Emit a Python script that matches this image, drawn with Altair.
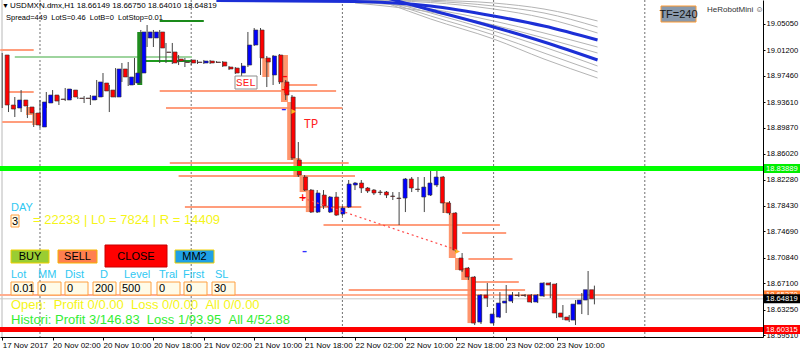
import json
import altair as alt
import pandas as pd

FONT = "Liberation Sans"
MONO = "Liberation Mono"

# ---------------- candles: bar index = hours since 20 Nov 2017 00:00 ----------------
bar_h = list(range(-6, 89))
open_p = [
    19.0051, 18.9319, 18.9275, 18.9392, 18.9290, 18.9202,
    18.8997, 18.9348, 18.9465, 18.9407, 18.9392, 18.9538, 18.9421, 18.9421, 18.9392, 18.9436,
    18.9641, 18.9538, 18.9436, 18.9846, 18.9612, 18.9641, 18.9787, 19.0300, 19.0300, 19.0388,
    19.0095, 19.0095, 18.9992, 18.9948, 18.9978, 18.9948, 18.9934, 18.9963, 18.9948, 18.9948,
    18.9875, 18.9860, 18.9787, 18.9904, 19.0197, 19.0417, 19.0007, 18.9758, 19.0051, 18.9656,
    18.9436, 18.8514, 18.8265, 18.8074, 18.7752, 18.8001, 18.7752, 18.7972, 18.7723, 18.7826,
    18.8148, 18.8177, 18.8104, 18.8074, 18.8045, 18.8045, 18.7987, 18.7957, 18.7957, 18.8236,
    18.8089, 18.7972, 18.8001, 18.8148, 18.8265, 18.7884, 18.7738, 18.7079, 18.6933, 18.6801,
    18.6142, 18.6537, 18.6127, 18.6215, 18.6420, 18.6449, 18.6537, 18.6537, 18.6537, 18.6435,
    18.6523, 18.6713, 18.6698, 18.6274, 18.6215, 18.6171, 18.6405, 18.6464, 18.66149,
]
high_p = [
    19.0080, 18.9392, 18.9436, 18.9538, 18.9319, 18.9246,
    18.9392, 18.9509, 18.9538, 18.9451, 18.9568, 18.9553, 18.9436, 18.9451, 18.9465, 18.9685,
    18.9787, 18.9612, 18.9860, 18.9934, 18.9948, 19.0007, 19.0417, 19.0490, 19.0417, 19.0417,
    19.0227, 19.0227, 19.0051, 19.0007, 18.9992, 18.9978, 18.9978, 18.9978, 18.9963, 18.9963,
    18.9890, 18.9875, 18.9934, 19.0388, 19.0446, 19.0446, 19.0036, 19.0051, 19.0065, 18.9685,
    18.9465, 18.8777, 18.8294, 18.8089, 18.8074, 18.8074, 18.7987, 18.8045, 18.7840, 18.8221,
    18.8192, 18.8221, 18.8118, 18.8089, 18.8074, 18.8060, 18.8045, 18.8045, 18.8250, 18.8265,
    18.8265, 18.8265, 18.8382, 18.8382, 18.8280, 18.7913, 18.7752, 18.7152, 18.6948, 18.6816,
    18.6552, 18.6713, 18.6347, 18.6581, 18.6684, 18.6581, 18.6581, 18.6552, 18.6552, 18.6552,
    18.6727, 18.6727, 18.6713, 18.6391, 18.6244, 18.6464, 18.6567, 18.6889, 18.66750,
]
low_p = [
    18.9275, 18.9216, 18.9143, 18.9216, 18.9128, 18.8997,
    18.8982, 18.9275, 18.9348, 18.9319, 18.9377, 18.9421, 18.9407, 18.9348, 18.9319, 18.9392,
    18.9436, 18.9216, 18.9429, 18.9656, 18.9597, 18.9612, 18.9641, 19.0168, 19.0168, 18.9934,
    18.9934, 18.9919, 18.9904, 18.9875, 18.9904, 18.9919, 18.9919, 18.9919, 18.9934, 18.9875,
    18.9831, 18.9773, 18.9714, 18.9875, 19.0183, 18.9758, 18.9582, 18.9612, 18.9626, 18.9392,
    18.8514, 18.8265, 18.8060, 18.7738, 18.7738, 18.7796, 18.7738, 18.7694, 18.7694, 18.7811,
    18.8074, 18.8031, 18.8031, 18.8001, 18.8001, 18.7957, 18.7928, 18.7562, 18.7752, 18.8045,
    18.8045, 18.7752, 18.7987, 18.8118, 18.7738, 18.7708, 18.7167, 18.6874, 18.6757, 18.6098,
    18.6113, 18.6362, 18.6098, 18.6200, 18.6274, 18.6420, 18.6508, 18.6508, 18.6420, 18.6420,
    18.6508, 18.6493, 18.6200, 18.6171, 18.6142, 18.6098, 18.6259, 18.6244, 18.64010,
]
close_p = [
    18.9319, 18.9260, 18.9392, 18.9304, 18.9202, 18.9026,
    18.9363, 18.9465, 18.9377, 18.9400, 18.9553, 18.9436, 18.9414, 18.9414, 18.9451, 18.9656,
    18.9524, 18.9436, 18.9846, 18.9729, 18.9729, 18.9787, 19.0388, 19.0388, 19.0388, 19.0153,
    19.0088, 18.9934, 18.9963, 18.9941, 18.9934, 18.9941, 18.9963, 18.9934, 18.9941, 18.9890,
    18.9846, 18.9787, 18.9890, 19.0197, 19.0417, 19.0007, 18.9948, 19.0036, 18.9656, 18.9465,
    18.8543, 18.8294, 18.8074, 18.7752, 18.8031, 18.7840, 18.7972, 18.7708, 18.7811, 18.8162,
    18.8177, 18.8104, 18.8060, 18.8031, 18.8038, 18.8001, 18.7980, 18.7950, 18.8236, 18.8104,
    18.8082, 18.8118, 18.8177, 18.8265, 18.7884, 18.7738, 18.7196, 18.6903, 18.6801, 18.6127,
    18.6537, 18.6493, 18.6259, 18.6420, 18.6449, 18.6537, 18.6530, 18.6530, 18.6435, 18.6537,
    18.6713, 18.6684, 18.6274, 18.6215, 18.6171, 18.6405, 18.6464, 18.6615, 18.64819,
]

# ---------------- axes ----------------
x_tick_h = [-6, 2, 10, 18, 26, 34, 42, 50, 58, 66, 74, 82]
x_tick_lbl = ["17 Nov 2017", "20 Nov 02:00", "20 Nov 10:00", "20 Nov 18:00", "21 Nov 02:00",
              "21 Nov 10:00", "21 Nov 18:00", "22 Nov 02:00", "22 Nov 10:00", "22 Nov 18:00",
              "23 Nov 02:00", "23 Nov 10:00"]
y_ticks = [19.0505, 19.0120, 18.9746, 18.9361, 18.8987, 18.8602, 18.8228, 18.7843,
           18.7469, 18.7084, 18.6710, 18.6325, 18.5951]
x_domain = [-6.349, 114.762]
y_domain = [18.5923, 19.0856]
separators_h = [0, 24, 48, 72, 96]

# ---------------- indicator lines (moving-average fan) ----------------
blue1_h = [28, 50, 62, 72, 80, 88.5]
blue1_p = [19.0849, 19.0834, 19.0768, 19.0622, 19.0475, 19.0270]
blue2_h = [55, 62, 72, 80, 88.5]
blue2_p = [19.0885, 19.0710, 19.0461, 19.0241, 18.9978]
grayA_h = [50, 62, 72, 80, 88.5]
gray_upper = {
    "gA": [19.0871, 19.0852, 19.0812, 19.0724, 19.0549],
    "gB": [19.0863, 19.0838, 19.0768, 19.0666, 19.0461],
    "gC": [19.0856, 19.0819, 19.0724, 19.0592, 19.0373],
    "gD": [19.0827, 19.0724, 19.0549, 19.0373, 19.0168],
    "gE": [19.0812, 19.0680, 19.0490, 19.0300, 19.0080],
}
grayB_h = [55, 62, 72, 80, 88.5]
gray_lower = {
    "gF": [19.0841, 19.0666, 19.0402, 19.0168, 18.9890],
    "gG": [19.0827, 19.0622, 19.0344, 19.0080, 18.9802],
    "gH": [19.0812, 19.0578, 19.0285, 18.9992, 18.9714],
}

# ---------------- horizontal levels ----------------
salmon_p = [19.0124, 18.9509, 18.9070, 18.9524, 18.9275, 18.9612, 18.8470, 18.8279,
            18.7826, 18.7562, 18.7445, 18.7064, 18.6727, 18.6610]
salmon_h1 = [-6.3, -5, -6, 19, 20, 39, 20.6, 22, 23, 45, 67, 68, 69, 49]
salmon_h2 = [-1, -1, -1, 47, 48, 44, 49, 50, 51, 73, 74, 75, 76, 77]
green_p = [19.0022, 18.9963, 19.0549, 18.8411]
green_h1 = [-4, 16, 19, 62]
green_h2 = [24.1, 24.1, 26, 71]
green_c = ["#9ed49e", "#1f9a1f", "#1a8a1a", "#138a13"]

# order boxes (salmon) behind candles
box_h = [-2, -1, 36, 39, 40, 41, 42, 43, 65, 66, 67, 68, 69]
box_top = [18.9290, 18.9202, 19.0007, 19.0051, 18.9363, 18.8543, 18.8265, 18.8074,
           18.7899, 18.7738, 18.7079, 18.6933, 18.6801]
box_bot = [18.9172, 18.9026, 18.9729, 18.9363, 18.8514, 18.8265, 18.8045, 18.7752,
           18.7738, 18.7079, 18.6903, 18.6757, 18.6127]

level_green = 18.83889
level_red = 18.60315
level_salmon = 18.65370
level_bid = 18.64819

dotted_h = [41.7, 66.2]
dotted_p = [18.7957, 18.7196]

marker_txt = ["+", "+", "–", "–", "–", "▸", "▸"]
marker_h = [41.7, 38.9, 38.9, 38.7, 42.0, 40.3, 66.3]
marker_p = [18.7957, 18.9538, 18.9729, 18.9246, 18.7167, 18.9231, 18.7182]
marker_c = ["#ff0000", "#ff0000", "#ff0000", "#2020ff", "#3030ff", "#ffb020", "#ffb020"]

# price labels on the right scale (drawn in this order)
plabel_p = [level_green, level_salmon, level_bid, level_red]
plabel_t = ["18.83889", "18.65370", "18.64819", "18.60315"]
plabel_c = ["#00ee00", "#ff7a2a", "#000000", "#ff0000"]

# ---------------- panel (EA interface) ----------------
NB = "\u00a0"
btn_lbl = ["BUY", "SELL", "CLOSE", "MM2"]
field_lbl = ["Lot", "MM", "Dist", "D", "Level", "Tral", "First", "SL"]
field_val = ["0.01", "0", "0", "200", "500", "0", "0", "30"]
header1 = "USDMXN.dmx,H1 18.66149 18.66750 18.64010 18.64819"
header2 = "Spread=449" + NB + NB + "LotS=0.46" + NB + NB + "LotB=0" + NB + NB + "LotStop=0.01"
day_txt = "DAY"
day_val = "3"
stat_txt = "= 22233 | L0 = 7824 | R = 14409"
open_txt = ("Open:" + NB + NB + "Profit 0/0.00" + NB + NB + "Loss 0/0.00" + NB + NB + "All 0/0.00")
hist_txt = ("Histori: Profit 3/146.83" + NB + NB + "Loss 1/93.95" + NB + NB + "All 4/52.88")

# ================= build =================
xs = alt.Scale(domain=x_domain, nice=False, zero=False)
ys = alt.Scale(domain=y_domain, nice=False, zero=False)


def X(f="h"):
    return alt.X(f + ":Q", scale=xs, axis=None)


def Y(f="p"):
    return alt.Y(f + ":Q", scale=ys, axis=None)


candles = pd.DataFrame({"h": bar_h, "o": open_p, "hi": high_p, "lo": low_p, "c": close_p})

lbl_expr = "{}[indexof({}, datum.value)]".format(json.dumps(x_tick_lbl), json.dumps(x_tick_h))

x_axis = alt.Axis(values=x_tick_h, labelExpr=lbl_expr, labelAlign="left", labelBaseline="top",
                  labelPadding=1, labelFont=FONT, labelFontSize=8, labelColor="#000",
                  tickSize=3, tickColor="#000", domainColor="#000", grid=False, title=None,
                  labelFlush=False, labelOverlap=False, labelBound=False)
y_axis = alt.Axis(orient="right", values=y_ticks, format=".5f", labelFont=FONT, labelFontSize=7.6,
                  labelColor="#000", labelPadding=1, tickSize=2, tickColor="#000",
                  domainColor="#000", grid=False, title=None, labelFlush=False,
                  labelOverlap=False, labelBound=False)

layers = []

# left edge line
layers.append(alt.Chart(pd.DataFrame({"a": [0]})).mark_rule(color="#b8b8b8", strokeWidth=1).encode(
    x=alt.value(2), y=alt.value(0), y2=alt.value(337)))

# invisible candle range layer that carries the axes
layers.append(alt.Chart(candles).mark_rule(color="#444444", strokeWidth=1, opacity=0).encode(
    x=alt.X("h:Q", scale=xs, axis=x_axis),
    y=alt.Y("lo:Q", scale=ys, axis=y_axis),
    y2=alt.Y2("hi:Q")))

# period separators
layers.append(alt.Chart(pd.DataFrame({"h": separators_h})).mark_rule(
    color="#707070", strokeDash=[2, 2], strokeWidth=1).encode(x=X()))

# full-width levels (background)
layers.append(alt.Chart(pd.DataFrame({"p": [level_salmon]})).mark_rule(
    color="#ffae90", strokeWidth=2).encode(y=Y()))
layers.append(alt.Chart(pd.DataFrame({"p": [level_bid]})).mark_rule(
    color="#c8c8c8", strokeWidth=1).encode(y=Y()))

# salmon segments
seg = pd.DataFrame({"p": salmon_p, "h": salmon_h1, "h2": salmon_h2})
layers.append(alt.Chart(seg).mark_rule(color="#ff9d7c", strokeWidth=2).encode(
    x=X(), x2=alt.X2("h2:Q"), y=Y()))

# green segments
gseg = pd.DataFrame({"p": green_p, "h": green_h1, "h2": green_h2, "col": green_c})
layers.append(alt.Chart(gseg).mark_rule(strokeWidth=2).encode(
    x=X(), x2=alt.X2("h2:Q"), y=Y(), color=alt.Color("col:N", scale=None)))

# green order rectangle
layers.append(alt.Chart(pd.DataFrame({"h": [15], "t": [19.0388], "b": [18.9612]})).mark_bar(
    size=5, color="#1e8c1e", xOffset=2).encode(x=X(), y=Y("t"), y2=alt.Y2("b:Q")))

# moving-average fan
rows = []
for name, vals in gray_upper.items():
    rows += [{"s": name, "h": h, "p": v} for h, v in zip(grayA_h, vals)]
for name, vals in gray_lower.items():
    rows += [{"s": name, "h": h, "p": v} for h, v in zip(grayB_h, vals)]
layers.append(alt.Chart(pd.DataFrame(rows)).mark_line(
    color="#b4b4b4", strokeWidth=1, interpolate="monotone", clip=True).encode(
    x=X(), y=Y(), detail="s:N"))
brows = [{"s": "b1", "h": h, "p": v} for h, v in zip(blue1_h, blue1_p)]
brows += [{"s": "b2", "h": h, "p": v} for h, v in zip(blue2_h, blue2_p)]
layers.append(alt.Chart(pd.DataFrame(brows)).mark_line(
    color="#1c2fd6", strokeWidth=3, interpolate="monotone", clip=True).encode(
    x=X(), y=Y(), detail="s:N"))

# salmon boxes
bx = pd.DataFrame({"h": box_h, "t": box_top, "b": box_bot})
layers.append(alt.Chart(bx).mark_bar(size=7, color="#ff8a5c", opacity=0.9, xOffset=-2.5).encode(
    x=X(), y=Y("t"), y2=alt.Y2("b:Q")))

# candle wicks
layers.append(alt.Chart(candles).mark_rule(color="#444444", strokeWidth=1).encode(
    x=X(), y=Y("lo"), y2=alt.Y2("hi:Q")))

# candle bodies
layers.append(alt.Chart(candles).transform_calculate(
    col="datum.c >= datum.o ? '#0000ff' : '#ff0000'").mark_bar(
    size=4, stroke="#303030", strokeWidth=0.6).encode(
    x=X(), y=Y("o"), y2=alt.Y2("c:Q"), color=alt.Color("col:N", scale=None)))

# thick levels on top
layers.append(alt.Chart(pd.DataFrame({"p": [level_green]})).mark_rule(
    color="#00ff00", strokeWidth=5).encode(y=Y()))
layers.append(alt.Chart(pd.DataFrame({"p": [level_red]})).mark_rule(
    color="#ff0000", strokeWidth=5).encode(y=Y()))

# dotted trade line
layers.append(alt.Chart(pd.DataFrame({"h": dotted_h, "p": dotted_p})).mark_line(
    color="#ff4a4a", strokeDash=[2, 3], strokeWidth=1.2).encode(x=X(), y=Y()))

# markers
mk = pd.DataFrame({"t": marker_txt, "h": marker_h, "p": marker_p, "col": marker_c})
layers.append(alt.Chart(mk).mark_text(font="DejaVu Sans", fontSize=10, fontWeight="bold").encode(
    x=X(), y=Y(), text="t:N", color=alt.Color("col:N", scale=None)))

# ---------------- panel boxes ----------------
box_rows = [
    dict(x0=661, x1=696, y0=6, y1=22, f="#8898ab", s="#ff9a30"),
    dict(x0=11, x1=19, y0=215, y1=227, f="#fffbe8", s="#ff9f40"),
    dict(x0=11, x1=49, y0=250, y1=263, f="#9acd32", s="#f0d000"),
    dict(x0=58, x1=97, y0=250, y1=263, f="#ff7f50", s="#f5b400"),
    dict(x0=105, x1=167, y0=245, y1=267, f="#ff0000", s="#c80000"),
    dict(x0=175, x1=214, y0=250, y1=263, f="#1ea0e6", s="#f0d000"),
    dict(x0=235, x1=257, y0=76, y1=89, f="#ffffff", s="#8c8c8c"),
]
inp_x0 = [11, 38, 65, 93, 120, 157, 184, 212]
inp_x1 = [33, 61, 88, 116, 151, 180, 207, 235]
for a, b in zip(inp_x0, inp_x1):
    box_rows.append(dict(x0=a, x1=b, y0=282, y1=295, f="#fffbe8", s="#ffa040"))
layers.append(alt.Chart(pd.DataFrame(box_rows)).mark_rect(strokeWidth=1).encode(
    x=alt.X("x0:Q", scale=None), x2="x1:Q",
    y=alt.Y("y0:Q", scale=None), y2="y1:Q",
    fill=alt.Fill("f:N", scale=None), stroke=alt.Stroke("s:N", scale=None)))

# ---------------- panel texts ----------------
lab_x = [11, 38, 65, 100, 124, 159, 183, 215]
left_rows = [
    dict(t="▼", x=2, y=6, c="#000000", z=7),
    dict(t=header1, x=10, y=6, c="#000000", z=8),
    dict(t=header2, x=6, y=18, c="#000000", z=7.5),
    dict(t="HeRobotMini ☺", x=707, y=10, c="#333333", z=8),
    dict(t=day_txt, x=11, y=208, c="#2fc8f2", z=11),
    dict(t=stat_txt, x=33, y=220, c="#f5f518", z=13),
    dict(t=open_txt, x=11, y=305, c="#f5f518", z=13),
    dict(t=hist_txt, x=11, y=320, c="#33ee33", z=13),
]
for t, x in zip(field_lbl, lab_x):
    left_rows.append(dict(t=t, x=x, y=275, c="#2fc8f2", z=11))
for t, x in zip(field_val, inp_x0):
    left_rows.append(dict(t=t, x=x + 2, y=289, c="#000000", z=11))
layers.append(alt.Chart(pd.DataFrame(left_rows)).mark_text(align="left", baseline="middle", font=FONT).encode(
    x=alt.X("x:Q", scale=None), y=alt.Y("y:Q", scale=None), text="t:N",
    color=alt.Color("c:N", scale=None), size=alt.Size("z:Q", scale=None)))

center_rows = [
    dict(t="TF=240", x=678.5, y=14.5, c="#151515", z=11),
    dict(t=day_val, x=15, y=221.5, c="#000000", z=11),
    dict(t=btn_lbl[0], x=30, y=257, c="#000000", z=11),
    dict(t=btn_lbl[1], x=77.5, y=257, c="#000000", z=11),
    dict(t=btn_lbl[2], x=136, y=256.5, c="#000000", z=11),
    dict(t=btn_lbl[3], x=194.5, y=257, c="#000000", z=11),
]
layers.append(alt.Chart(pd.DataFrame(center_rows)).mark_text(align="center", baseline="middle", font=FONT).encode(
    x=alt.X("x:Q", scale=None), y=alt.Y("y:Q", scale=None), text="t:N",
    color=alt.Color("c:N", scale=None), size=alt.Size("z:Q", scale=None)))

mono_rows = [
    dict(t="SEL", x=246, y=83, z=11),
    dict(t="TP", x=311, y=124, z=12),
]
layers.append(alt.Chart(pd.DataFrame(mono_rows)).mark_text(
    align="center", baseline="middle", font=MONO, color="#ff2020").encode(
    x=alt.X("x:Q", scale=None), y=alt.Y("y:Q", scale=None), text="t:N",
    size=alt.Size("z:Q", scale=None)))

# ---------------- price labels on the right ----------------
for p, t, c in zip(plabel_p, plabel_t, plabel_c):
    one = pd.DataFrame({"p": [p], "t": [t]})
    layers.append(alt.Chart(one).mark_rule(strokeWidth=9, strokeCap="butt", color=c).encode(
        y=Y(), x=alt.value(764), x2=alt.value(800)))
    layers.append(alt.Chart(one).mark_text(align="left", baseline="middle", font=FONT, fontSize=7.6,
                                           color="#ffffff").encode(
        y=Y(), x=alt.value(766), text="t:N"))

chart = alt.layer(*layers).resolve_scale(x="independent", y="independent").properties(
    width=763, height=337,
    autosize=alt.AutoSizeParams(type="none"),
    padding={"left": 0, "top": 0, "right": 37, "bottom": 16},
    background="#ffffff",
).configure_view(stroke=None)

chart.save("out.html", embed_options={"renderer": "svg", "actions": False})
